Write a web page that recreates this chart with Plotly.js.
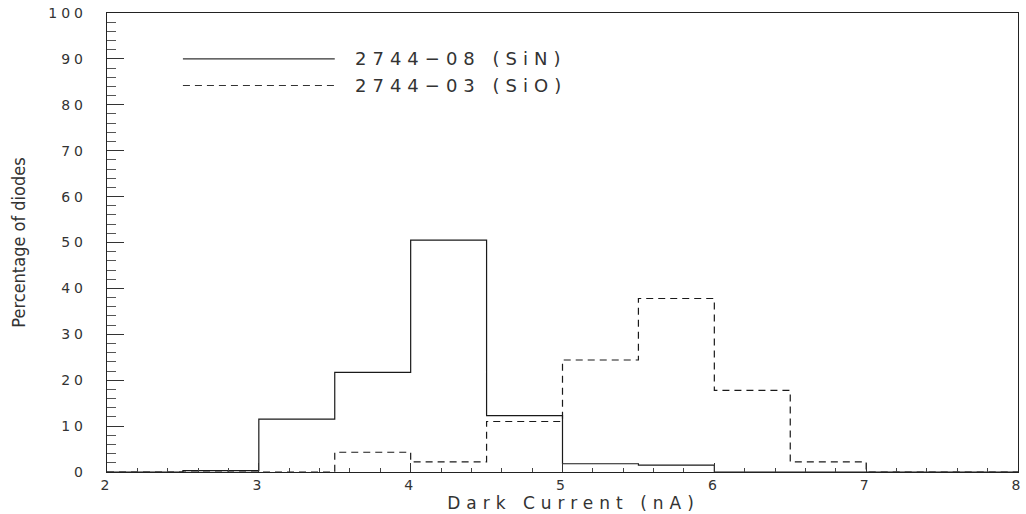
<!DOCTYPE html>
<html>
<head>
<meta charset="utf-8">
<script src="https://cdn.plot.ly/plotly-3.0.1.min.js"></script>
<style>
html,body{margin:0;padding:0;background:#fff;}
#chart{width:1026px;height:514px;}
</style>
</head>
<body>
<div id="chart"></div>
<script>
// Bin edges (Dark Current, nA)
const binEdges = [2, 2.5, 3, 3.5, 4, 4.5, 5, 5.5, 6, 6.5, 7, 7.5, 8];
// Percentage of diodes per bin
const sinValues = [0, 0.3, 11.5, 21.7, 50.5, 12.3, 1.8, 1.5, 0, 0, 0, 0];
const sioValues = [0, 0, 0, 4.3, 2.2, 11.0, 24.4, 37.8, 17.8, 2.2, 0, 0];
const seriesNames = ["2744\u221208 (SiN)", "2744\u221203 (SiO)"];
const xTitle = "Dark Current (nA)";
const yTitle = "Percentage of diodes";
const legendY = [90, 84.2];
const legendX = [2.5, 3.5, 3.62];

function stepY(vals){ return vals.concat([vals[vals.length-1]]); }

const lineColor = '#1a1a1a';
const annSpacing = 6;
const traces = [
  {x: binEdges, y: stepY(sinValues), type:'scatter', mode:'lines', line:{shape:'hv', color:lineColor, width:1.2}, name: seriesNames[0], showlegend:false},
  {x: binEdges, y: stepY(sioValues), type:'scatter', mode:'lines', line:{shape:'hv', color:lineColor, width:1.2, dash:'7px,5px'}, name: seriesNames[1], showlegend:false}
];

const tickFont = {family:'DejaVu Sans, sans-serif', size:14, color:'#333'};
const annFont = {family:'DejaVu Sans, sans-serif', size:18, color:'#333'};
const layout = {
  width:1026, height:514,
  margin:{l:107, r:8, t:13, b:42},
  paper_bgcolor:'#fff', plot_bgcolor:'#fff',
  showlegend:false,
  xaxis:{
    range:[2,8], dtick:1, tick0:2, ticks:'inside', ticklen:9, tickwidth:1, tickcolor:'#333',
    minor:{dtick:0.2, ticks:'inside', ticklen:4, tickcolor:'#444', tickwidth:1},
    showline:true, linecolor:'#222', linewidth:1.3, mirror:true, showgrid:false, zeroline:false,
    tickfont:tickFont, ticklabelstandoff:0,
    title:{text:xTitle, font:{family:'DejaVu Sans, sans-serif', size:17, color:'#333'}, standoff:1}
  },
  yaxis:{
    range:[0,100], dtick:10, ticks:'inside', ticklen:17, tickwidth:1, tickcolor:'#333',
    minor:{dtick:2, ticks:'inside', ticklen:9, tickcolor:'#555', tickwidth:1},
    showline:true, linecolor:'#222', linewidth:1.3, mirror:true, showgrid:false, zeroline:false,
    tickfont:tickFont, ticklabelstandoff:16,
    title:{text:yTitle, font:{family:'Liberation Sans Narrow, DejaVu Sans Condensed, sans-serif', size:18, color:'#333'}, standoff:30}
  },
  shapes:[
    {type:'line', xref:'x', yref:'y', x0:legendX[0], x1:legendX[1], y0:legendY[0], y1:legendY[0], line:{color:'#333', width:1.2}},
    {type:'line', xref:'x', yref:'y', x0:legendX[0], x1:legendX[1], y0:legendY[1], y1:legendY[1], line:{color:'#333', width:1.2, dash:'7px,5px'}}
  ],
  annotations:[
    {xref:'x', yref:'y', x:legendX[2], y:legendY[0], text:seriesNames[0], showarrow:false, xanchor:'left', yanchor:'middle', xshift:seriesNames[0].length*annSpacing/2, font:annFont},
    {xref:'x', yref:'y', x:legendX[2], y:legendY[1], text:seriesNames[1], showarrow:false, xanchor:'left', yanchor:'middle', xshift:seriesNames[1].length*annSpacing/2, font:annFont}
  ]
};

Plotly.newPlot('chart', traces, layout, {displayModeBar:false, staticPlot:true}).then(function(gd){
  document.querySelectorAll('.xtick text, .ytick text').forEach(function(t){ t.style.letterSpacing='4px'; });
  document.querySelectorAll('.g-xtitle text').forEach(function(t){ t.style.letterSpacing='6px'; });
  document.querySelectorAll('.annotation-text').forEach(function(t){ t.style.letterSpacing=annSpacing+'px'; });
  var host = document.getElementById('chart').getBoundingClientRect();
  var sz = gd._fullLayout._size;
  var axisLeft = host.left + sz.l;
  // right-align y tick labels 24px left of the axis line (as in the original)
  document.querySelectorAll('.ytick text').forEach(function(t){
    var r = t.getBoundingClientRect().right - 4; // drop trailing letter spacing
    var dx = (axisLeft - 24) - r;
    var x0 = parseFloat(t.getAttribute('x')) || 0;
    t.setAttribute('x', x0 + dx);
  });
  // centre the x title slightly right of the plot centre, as in the original
  document.querySelectorAll('.g-xtitle text').forEach(function(t){
    var b = t.getBoundingClientRect();
    var c = (b.left + b.right - 6) / 2;
    var target = axisLeft + sz.w / 2 + 8;
    var x0 = parseFloat(t.getAttribute('x')) || 0;
    t.setAttribute('x', x0 + (target - c));
  });
});
</script>
</body>
</html>
